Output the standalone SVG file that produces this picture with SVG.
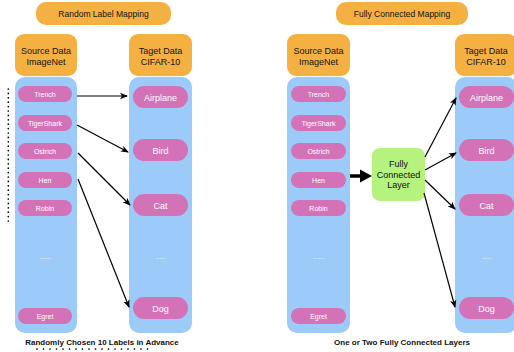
<svg xmlns="http://www.w3.org/2000/svg" width="514" height="352" viewBox="0 0 514 352">
<defs>
<style>
.or{fill:#F4B142;}
.col{fill:#9DCBF9;}
.pk{fill:#D472B8;}
.fc{fill:#B5F27E;}
text{font-family:"Liberation Sans",Arial,sans-serif;text-anchor:middle;}
.hd{font-size:9px;fill:#111;}
.tt{font-size:8.5px;fill:#111;}
.si{font-size:7px;fill:#fff;}
.ti{font-size:9px;fill:#fff;}
.bt{font-size:8px;font-weight:bold;fill:#111;}
.cn{stroke:#000;stroke-width:1.2;fill:none;marker-end:url(#ah);}
</style>
<marker id="ah" markerWidth="8" markerHeight="8" refX="7" refY="4" orient="auto" markerUnits="userSpaceOnUse">
<path d="M0,0.8 L8,4 L0,7.2 L2,4 Z" fill="#000"/>
</marker>
</defs>

<g id="title-left"><rect class="or" x="36" y="2" width="135" height="23" rx="10"/><text class="tt" x="103.5" y="17">Random Label Mapping</text></g>
<g id="src-left">
<rect class="or" x="15" y="34" width="62" height="42" rx="9"/>
<text class="hd" x="46" y="53.5">Source Data</text><text class="hd" x="46" y="64.5">ImageNet</text>
<rect class="col" x="15" y="77" width="62" height="256" rx="10"/>
<rect class="pk" x="18" y="86" width="54" height="16" rx="8"/><text class="si" x="45" y="96.5">Trench</text>
<rect class="pk" x="18" y="115" width="54" height="16" rx="8"/><text class="si" x="45" y="125.5">TigerShark</text>
<rect class="pk" x="18" y="143" width="54" height="16" rx="8"/><text class="si" x="45" y="153.5">Ostrich</text>
<rect class="pk" x="18" y="172" width="54" height="16" rx="8"/><text class="si" x="45" y="182.5">Hen</text>
<rect class="pk" x="18" y="200" width="54" height="16" rx="8"/><text class="si" x="45" y="210.5">Robin</text>
<text class="si" x="45" y="259">......</text>
<rect class="pk" x="18" y="308" width="54" height="16" rx="8"/><text class="si" x="45" y="318.5">Egret</text>
</g>
<g id="tgt-left">
<rect class="or" x="129" y="34" width="63" height="42" rx="9"/>
<text class="hd" x="160.5" y="53.5">Taget Data</text><text class="hd" x="160.5" y="64.5">CIFAR-10</text>
<rect class="col" x="129" y="77" width="63" height="256" rx="10"/>
<rect class="pk" x="133" y="86" width="55" height="22" rx="11"/><text class="ti" x="160.5" y="100.5">Airplane</text>
<rect class="pk" x="133" y="139" width="55" height="22" rx="11"/><text class="ti" x="160.5" y="153.5">Bird</text>
<rect class="pk" x="133" y="194" width="55" height="22" rx="11"/><text class="ti" x="160.5" y="208.5">Cat</text>
<text class="si" x="160.5" y="259">.....</text>
<rect class="pk" x="133" y="297" width="55" height="22" rx="11"/><text class="ti" x="160.5" y="311.5">Dog</text>
</g>
<g id="caption-left">
<text class="bt" x="102" y="345">Randomly Chosen 10 Labels in Advance</text>
<line x1="37" y1="349" x2="148" y2="349" stroke="#000" stroke-width="1.7" stroke-linecap="round" stroke-dasharray="0 6.5"/>
<line x1="8.3" y1="89" x2="8.3" y2="222" stroke="#000" stroke-width="1.7" stroke-linecap="round" stroke-dasharray="0 4.4"/>
</g>

<g id="title-right"><rect class="or" x="336" y="2" width="132" height="23" rx="10"/><text class="tt" x="402" y="17">Fully Connected Mapping</text></g>
<g id="src-right">
<rect class="or" x="287" y="34" width="63" height="42" rx="9"/>
<text class="hd" x="318.5" y="53.5">Source Data</text><text class="hd" x="318.5" y="64.5">ImageNet</text>
<rect class="col" x="287" y="77" width="63" height="256" rx="10"/>
<rect class="pk" x="291" y="86" width="55" height="16" rx="8"/><text class="si" x="318.5" y="96.5">Trench</text>
<rect class="pk" x="291" y="115" width="55" height="16" rx="8"/><text class="si" x="318.5" y="125.5">TigerShark</text>
<rect class="pk" x="291" y="143" width="55" height="16" rx="8"/><text class="si" x="318.5" y="153.5">Ostrich</text>
<rect class="pk" x="291" y="172" width="55" height="16" rx="8"/><text class="si" x="318.5" y="182.5">Hen</text>
<rect class="pk" x="291" y="200" width="55" height="16" rx="8"/><text class="si" x="318.5" y="210.5">Robin</text>
<text class="si" x="318.5" y="259">......</text>
<rect class="pk" x="291" y="308" width="55" height="16" rx="8"/><text class="si" x="318.5" y="318.5">Egret</text>
</g>
<g id="fc-layer">
<rect class="fc" x="372" y="148" width="53" height="53" rx="8"/>
<text class="hd" x="398.5" y="167">Fully</text>
<text class="hd" x="398.5" y="177.5">Connected</text>
<text class="hd" x="398.5" y="188">Layer</text>
</g>
<g id="tgt-right">
<rect class="or" x="455" y="34" width="62" height="42" rx="9"/>
<text class="hd" x="486" y="53.5">Taget Data</text><text class="hd" x="486" y="64.5">CIFAR-10</text>
<rect class="col" x="455" y="77" width="62" height="256" rx="10"/>
<rect class="pk" x="459" y="86" width="55" height="22" rx="11"/><text class="ti" x="486.5" y="100.5">Airplane</text>
<rect class="pk" x="459" y="139" width="55" height="22" rx="11"/><text class="ti" x="486.5" y="153.5">Bird</text>
<rect class="pk" x="459" y="194" width="55" height="22" rx="11"/><text class="ti" x="486.5" y="208.5">Cat</text>
<text class="si" x="486.5" y="259">.....</text>
<rect class="pk" x="459" y="297" width="55" height="22" rx="11"/><text class="ti" x="486.5" y="311.5">Dog</text>
</g>
<g id="caption-right"><text class="bt" x="402" y="345">One or Two Fully Connected Layers</text></g>

<g id="connectors">
<line class="cn" x1="77" y1="96" x2="127" y2="96"/>
<line class="cn" x1="77" y1="125" x2="128" y2="152"/>
<line class="cn" x1="78" y1="153" x2="130" y2="205"/>
<line class="cn" x1="78" y1="179" x2="129" y2="307"/>
<line x1="350" y1="176" x2="362" y2="176" stroke="#000" stroke-width="3.5"/>
<path d="M360,169.5 L372,176 L360,182.5 Z" fill="#000"/>
<line class="cn" x1="425" y1="157" x2="456" y2="98"/>
<line class="cn" x1="425" y1="170" x2="456" y2="153"/>
<line class="cn" x1="425" y1="180" x2="455" y2="209"/>
<line class="cn" x1="424" y1="193" x2="455" y2="307"/>
</g>
</svg>
